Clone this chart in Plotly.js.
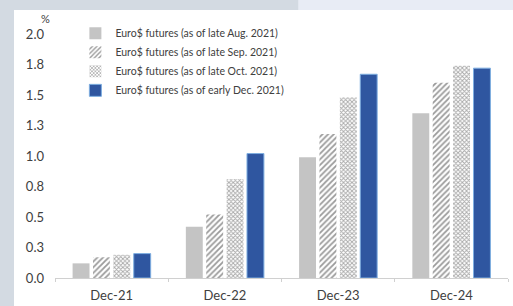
<!DOCTYPE html>
<html>
<head>
<meta charset="utf-8">
<script src="https://cdn.plot.ly/plotly-3.0.1.min.js"></script>
<style>html,body{margin:0;padding:0;background:#d3dae2;}#chart{width:513px;height:306px;}</style>
</head>
<body>
<div id="chart"></div>
<script>
const categories = ["Dec-21", "Dec-22", "Dec-23", "Dec-24"];
const seriesNames = [
  "Euro$ futures (as of late Aug. 2021)",
  "Euro$ futures (as of late Sep. 2021)",
  "Euro$ futures (as of late Oct. 2021)",
  "Euro$ futures (as of early Dec. 2021)"
];
const lateAug = [0.12, 0.42, 0.99, 1.35];
const lateSep = [0.17, 0.52, 1.18, 1.60];
const lateOct = [0.19, 0.81, 1.48, 1.74];
const earlyDec = [0.20, 1.02, 1.67, 1.72];
const yTickVals = [0, 0.25, 0.5, 0.75, 1.0, 1.25, 1.5, 1.75, 2.0];
const yTickText = ["0.0", "0.3", "0.5", "0.8", "1.0", "1.3", "1.5", "1.8", "2.0"];

const traces = [
  {type: "bar", name: seriesNames[0], x: categories, y: lateAug,
   marker: {color: "#c4c4c4", line: {width: 0}}},
  {type: "bar", name: seriesNames[1], x: categories, y: lateSep,
   marker: {color: "#ffffff", line: {width: 0},
            pattern: {shape: "/", fgcolor: "#9a9a9a", bgcolor: "#ffffff", size: 4, solidity: 0.45}}},
  {type: "bar", name: seriesNames[2], x: categories, y: lateOct,
   marker: {color: "#ffffff", line: {width: 0},
            pattern: {shape: "x", fgcolor: "#a8a8a8", bgcolor: "#ffffff", size: 3, solidity: 0.5}}},
  {type: "bar", name: seriesNames[3], x: categories, y: earlyDec,
   marker: {color: "#2f56a0", line: {width: 1, color: "#7eaee0"}}}
];

const layout = {
  width: 513, height: 306,
  paper_bgcolor: "#d3dae2",
  plot_bgcolor: "#ffffff",
  margin: {l: 55, r: 5, t: 34, b: 28},
  barmode: "group",
  bargap: 0.28,
  bargroupgap: 0.17,
  font: {family: "Lato, 'Open Sans', sans-serif", color: "#404040", size: 13},
  xaxis: {
    type: "category",
    showline: true, linecolor: "#d0d0d0", linewidth: 1,
    ticks: "outside", tickson: "boundaries", ticklen: 3, tickcolor: "#d0d0d0",
    tickfont: {size: 13, color: "#404040"},
    ticklabelstandoff: 5,
    showgrid: false, zeroline: false, fixedrange: true
  },
  yaxis: {
    range: [0, 2.0],
    tickvals: yTickVals, ticktext: yTickText,
    showgrid: false, zeroline: false, showline: false,
    tickfont: {size: 13, color: "#404040"},
    ticklabelstandoff: 10,
    fixedrange: true
  },
  showlegend: true,
  legend: {
    x: 0.045, xanchor: "left", y: 1.062, yanchor: "top",
    bgcolor: "rgba(0,0,0,0)",
    font: {size: 10.5, color: "#404040"},
    itemwidth: 30,
    tracegroupgap: 0
  },
  shapes: [
    {type: "rect", xref: "paper", yref: "paper", layer: "below",
     x0: -0.0905, x1: 1.02, y0: -0.2, y1: 1.098, fillcolor: "#ffffff", line: {width: 0}},
    {type: "rect", xref: "paper", yref: "paper", layer: "below",
     x0: 0.537, x1: 1.02, y0: 1.098, y1: 1.2, fillcolor: "#e8ecf5", line: {width: 0}}
  ],
  annotations: [
    {xref: "paper", yref: "paper", x: -0.02, y: 1.062, xanchor: "center", yanchor: "middle",
     text: "%", showarrow: false, font: {size: 11, color: "#404040"}}
  ]
};

Plotly.newPlot("chart", traces, layout, {displayModeBar: false, staticPlot: true});
</script>
</body>
</html>
